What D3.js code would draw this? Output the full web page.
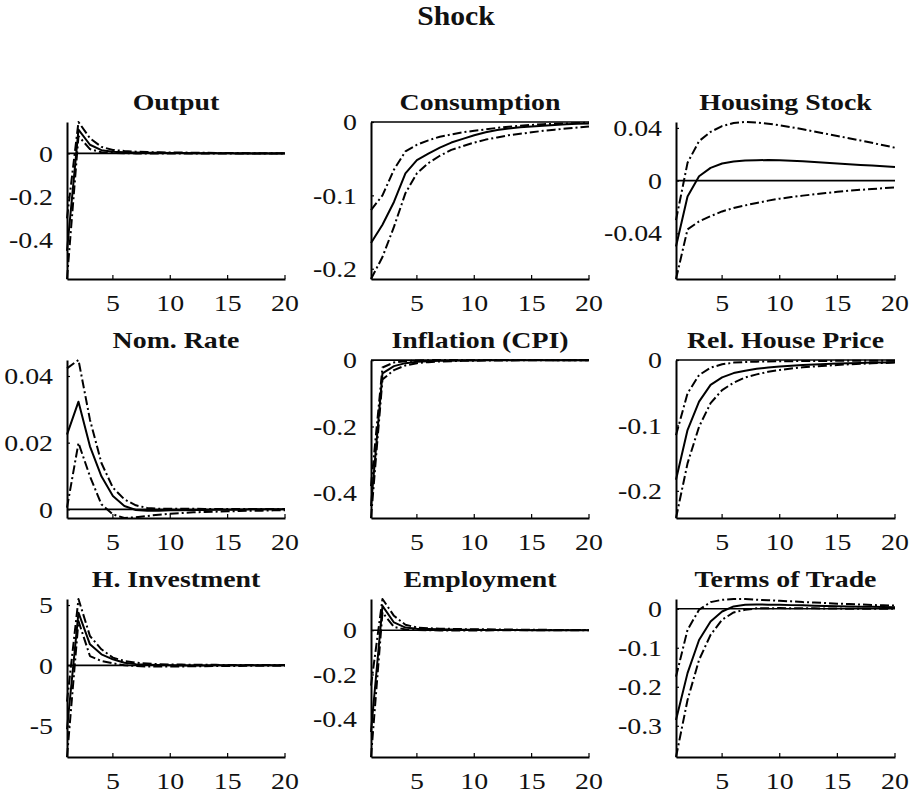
<!DOCTYPE html>
<html>
<head>
<meta charset="utf-8">
<script src="https://cdn.jsdelivr.net/npm/d3@7"></script>
<style>
  html, body { margin: 0; padding: 0; background: #fff; }
  svg { display: block; }
  text { font-family: "Liberation Serif", "Times New Roman", serif; fill: #111; }
</style>
</head>
<body>
<svg id="chart" width="909" height="798"></svg>
<script>
// Impulse responses, horizons 1..20: median (solid) with lower/upper bands (dash-dot)
const horizons = d3.range(1, 21);
const xTicks = [5, 10, 15, 20];

const outputMid = [-0.45, 0.11, 0.040, 0.015, 0.008, 0.005, 0.004, 0.003, 0.003, 0.002, 0.002, 0.001, 0.001, 0.001, 0.001, 0, 0, 0, 0, 0];
const outputUp  = [-0.30, 0.145, 0.070, 0.030, 0.016, 0.011, 0.008, 0.006, 0.005, 0.004, 0.004, 0.003, 0.003, 0.002, 0.002, 0.002, 0.001, 0.001, 0.001, 0.001];
const outputLo  = [-0.58, 0.080, 0.020, 0.005, 0.002, 0.001, 0, 0, -0.001, -0.001, -0.001, -0.001, -0.001, -0.001, 0, 0, 0, 0, 0, 0];

const consMid = [-0.165, -0.140, -0.109, -0.070, -0.052, -0.043, -0.035, -0.028, -0.023, -0.018, -0.014, -0.011, -0.009, -0.007, -0.006, -0.005, -0.004, -0.003, -0.0025, -0.002];
const consUp  = [-0.120, -0.100, -0.065, -0.040, -0.031, -0.025, -0.020, -0.017, -0.014, -0.012, -0.010, -0.008, -0.0065, -0.005, -0.004, -0.003, -0.0025, -0.002, -0.0015, -0.001];
const consLo  = [-0.214, -0.184, -0.143, -0.097, -0.070, -0.056, -0.046, -0.038, -0.033, -0.028, -0.024, -0.021, -0.018, -0.016, -0.014, -0.012, -0.0105, -0.009, -0.0075, -0.006];

const houseMid = [-0.050, -0.012, 0.0033, 0.0097, 0.013, 0.0145, 0.0152, 0.0155, 0.0156, 0.0155, 0.0151, 0.0147, 0.0141, 0.0135, 0.0129, 0.0124, 0.0119, 0.0114, 0.0109, 0.0104];
const houseUp  = [-0.030, 0.0135, 0.030, 0.037, 0.0414, 0.0437, 0.0445, 0.0440, 0.0432, 0.0420, 0.0405, 0.0390, 0.0373, 0.0356, 0.0339, 0.0322, 0.0305, 0.0287, 0.0268, 0.0250];
const houseLo  = [-0.0747, -0.037, -0.031, -0.027, -0.0234, -0.0208, -0.0188, -0.0170, -0.0152, -0.0137, -0.0125, -0.0114, -0.0104, -0.0094, -0.0085, -0.0076, -0.0070, -0.0064, -0.0057, -0.0051];

const rateMid = [0.0224, 0.0323, 0.0189, 0.0099, 0.0040, 0.0010, -0.0002, -0.0004, -0.0004, -0.0003, -0.0003, -0.0002, -0.0002, -0.0001, -0.0001, -0.0001, 0, 0, 0, 0];
const rateUp  = [0.0423, 0.0448, 0.0269, 0.0139, 0.0065, 0.0030, 0.0012, 0.0004, 0.0002, 0.0002, 0.0002, 0.0002, 0.0001, 0.0001, 0.0001, 0.0001, 0.0001, 0.0001, 0.0001, 0.0001];
const rateLo  = [0.0005, 0.0199, 0.0099, 0.0015, -0.0015, -0.0026, -0.0024, -0.0020, -0.0016, -0.0013, -0.0011, -0.0009, -0.0008, -0.0007, -0.0006, -0.0005, -0.0004, -0.0004, -0.0003, -0.0003];

const inflMid = [-0.44, -0.040, -0.018, -0.009, -0.005, -0.003, -0.002, -0.0015, -0.001, -0.0008, -0.0006, -0.0005, -0.0004, -0.0003, -0.0002, -0.0002, -0.0001, -0.0001, -0.0001, 0];
const inflUp  = [-0.38, -0.022, -0.007, -0.003, -0.001, 0, 0.0005, 0.0005, 0.0005, 0.0004, 0.0004, 0.0003, 0.0003, 0.0002, 0.0002, 0.0002, 0.0001, 0.0001, 0.0001, 0.0001];
const inflLo  = [-0.476, -0.058, -0.030, -0.016, -0.009, -0.006, -0.004, -0.003, -0.002, -0.0015, -0.0012, -0.001, -0.0008, -0.0006, -0.0005, -0.0004, -0.0003, -0.0003, -0.0002, -0.0002];

const priceMid = [-0.183, -0.107, -0.0637, -0.038, -0.0265, -0.020, -0.0163, -0.0133, -0.0115, -0.010, -0.0088, -0.0076, -0.0068, -0.006, -0.0055, -0.005, -0.0045, -0.004, -0.0037, -0.0035];
const priceUp  = [-0.115, -0.051, -0.023, -0.0117, -0.0066, -0.004, -0.003, -0.0025, -0.0022, -0.002, -0.0018, -0.0016, -0.0015, -0.0014, -0.0013, -0.0012, -0.0011, -0.001, -0.001, -0.001];
const priceLo  = [-0.2415, -0.158, -0.102, -0.066, -0.046, -0.0347, -0.0265, -0.022, -0.018, -0.0153, -0.013, -0.0112, -0.0098, -0.0087, -0.0076, -0.0066, -0.0058, -0.005, -0.0045, -0.004];

const invMid = [-5.3, 4.37, 1.74, 0.91, 0.50, 0.22, 0.10, 0.05, 0.02, 0, -0.01, -0.01, -0.01, 0, 0, 0, 0, 0, 0, 0];
const invUp  = [-3.0, 5.5, 2.43, 1.33, 0.64, 0.36, 0.22, 0.15, 0.10, 0.07, 0.06, 0.05, 0.04, 0.04, 0.03, 0.03, 0.02, 0.02, 0.02, 0.02];
const invLo  = [-7.6, 3.67, 0.77, 0.36, 0.17, 0, -0.05, -0.10, -0.10, -0.10, -0.09, -0.08, -0.07, -0.06, -0.05, -0.05, -0.04, -0.04, -0.03, -0.03];

const empMid = [-0.46, 0.11, 0.035, 0.012, 0.007, 0.005, 0.004, 0.003, 0.002, 0.002, 0.001, 0.001, 0.001, 0.001, 0, 0, 0, 0, 0, 0];
const empUp  = [-0.25, 0.141, 0.065, 0.025, 0.012, 0.009, 0.007, 0.006, 0.005, 0.004, 0.004, 0.003, 0.003, 0.002, 0.002, 0.002, 0.001, 0.001, 0.001, 0.001];
const empLo  = [-0.573, 0.08, 0.015, 0.003, 0.001, 0, -0.001, -0.001, -0.001, -0.001, -0.001, 0, 0, 0, 0, 0, 0, 0, 0, 0];

const totMid = [-0.285, -0.165, -0.080, -0.0326, -0.007, 0.006, 0.010, 0.011, 0.0105, 0.010, 0.0093, 0.0087, 0.0078, 0.007, 0.0062, 0.0055, 0.0052, 0.005, 0.0045, 0.004];
const totUp  = [-0.174, -0.054, -0.0026, 0.017, 0.023, 0.025, 0.025, 0.023, 0.022, 0.0205, 0.019, 0.017, 0.016, 0.0146, 0.013, 0.012, 0.011, 0.0095, 0.009, 0.008];
const totLo  = [-0.38, -0.234, -0.131, -0.067, -0.028, -0.0095, -0.0026, 0.001, 0.0015, 0.0017, 0.0015, 0.0012, 0.001, 0.0009, 0.0005, 0, 0, 0, 0, 0];

const panelTitles = ["Output", "Consumption", "Housing Stock",
                     "Nom. Rate", "Inflation (CPI)", "Rel. House Price",
                     "H. Investment", "Employment", "Terms of Trade"];
const yTickSets = [[-0.4, -0.2, 0], [-0.2, -0.1, 0], [-0.04, 0, 0.04],
                   [0, 0.02, 0.04], [-0.4, -0.2, 0], [-0.2, -0.1, 0],
                   [-5, 0, 5], [-0.4, -0.2, 0], [-0.3, -0.2, -0.1, 0]];
const seriesSets = [
  [outputMid, outputUp, outputLo], [consMid, consUp, consLo], [houseMid, houseUp, houseLo],
  [rateMid, rateUp, rateLo], [inflMid, inflUp, inflLo], [priceMid, priceUp, priceLo],
  [invMid, invUp, invLo], [empMid, empUp, empLo], [totMid, totUp, totLo]
];

// Grid geometry
const colX = [67, 371, 676];
const colW = [218, 218, 219];
const rowY = [122, 360, 599];
const rowH = [157, 158, 158];
const stretch = 1.16;   // wide serif lettering

const svg = d3.select("#chart");

svg.append("text")
  .attr("transform", `translate(456,25) scale(1.1,1)`)
  .attr("text-anchor", "middle")
  .style("font-size", "27px")
  .style("font-weight", "bold")
  .text("Shock");

const dashDot = "9,3,2,3";

panelTitles.forEach((title, i) => {
  const r = Math.floor(i / 3), c = i % 3;
  const w = colW[c], h = rowH[r];
  const g = svg.append("g").attr("transform", `translate(${colX[c]},${rowY[r]})`);
  const [mid, up, lo] = seriesSets[i];

  const ext = d3.extent([...mid, ...up, ...lo, 0]);
  const x = d3.scaleLinear().domain([1, 20]).range([0, w]);
  const y = d3.scaleLinear().domain(ext).range([h, 0]);

  // title
  g.append("text")
    .attr("transform", `translate(${w / 2},-12) scale(${stretch},1)`)
    .attr("text-anchor", "middle")
    .style("font-size", "24px")
    .style("font-weight", "bold")
    .text(title);

  // zero line
  g.append("line")
    .attr("x1", 0).attr("x2", w)
    .attr("y1", y(0)).attr("y2", y(0))
    .attr("stroke", "#000").attr("stroke-width", 1.6);

  const line = d3.line().x((d, k) => x(horizons[k])).y(d => y(d));

  [[lo, dashDot], [up, dashDot], [mid, null]].forEach(([vals, dash]) => {
    g.append("path")
      .datum(vals)
      .attr("d", line)
      .attr("fill", "none")
      .attr("stroke", "#000")
      .attr("stroke-width", 2)
      .attr("stroke-linejoin", "round")
      .attr("stroke-dasharray", dash);
  });

  // axes
  const yAxis = d3.axisLeft(y)
    .tickValues(yTickSets[i])
    .tickSize(-3).tickSizeOuter(0).tickPadding(0)
    .tickFormat(d => String(d));
  const ya = g.append("g").call(yAxis);
  ya.selectAll("text")
    .attr("x", -14 / stretch)
    .attr("transform", `scale(${stretch},1)`)
    .style("font-size", "24px");

  const xAxis = d3.axisBottom(x)
    .tickValues(xTicks)
    .tickSize(-4).tickSizeOuter(0).tickPadding(15)
    .tickFormat(d => String(d));
  const xa = g.append("g").attr("transform", `translate(0,${h})`).call(xAxis);
  xa.selectAll("text").style("font-size", "24px")
    .attr("transform", `scale(${stretch},1)`);
  xa.selectAll(".tick").each(function (d) {
    d3.select(this).attr("transform", `translate(${x(d)},0)`);
  });

  [ya, xa].forEach(a => {
    a.select(".domain").attr("stroke", "#000").attr("stroke-width", 2);
    a.selectAll(".tick line").attr("stroke", "#000").attr("stroke-width", 1.2);
    a.selectAll("text").attr("fill", "#111").style("font-family", "'Liberation Serif', 'Times New Roman', serif");
  });
});
</script>
</body>
</html>
